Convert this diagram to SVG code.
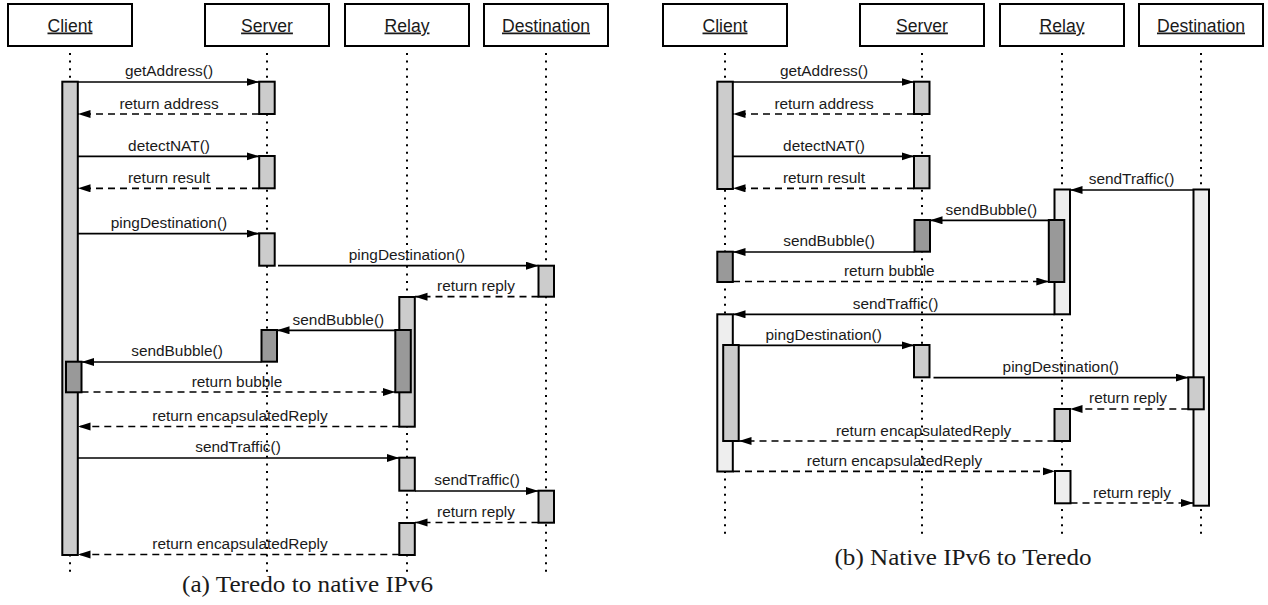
<svg xmlns="http://www.w3.org/2000/svg" width="1268" height="605" viewBox="0 0 1268 605">
<style>
.box{fill:#fff;stroke:#000;stroke-width:2}
.life{stroke:#000;stroke-width:2;stroke-dasharray:2 5.6;fill:none}
.act{stroke:#000;stroke-width:2;fill:#ccc}
.dark{fill:#999}
.pale{fill:#eee}
.msg{stroke:#000;stroke-width:1.7;fill:none;marker-end:url(#ah)}
.ret{stroke-dasharray:7 5}
.lbl{font-family:"Liberation Sans",Arial,sans-serif;font-size:15.4px;text-anchor:middle;fill:#1a1a1a}
.name{font-size:17.6px;text-decoration:underline}
.cap{font-family:"Liberation Serif","Times New Roman",serif;font-size:24px;text-anchor:middle;fill:#1a1a1a}
</style>
<defs>
<marker id="ah" markerUnits="userSpaceOnUse" markerWidth="14" markerHeight="9" refX="12.5" refY="4" orient="auto">
<path d="M0,0 L12.5,4 L0,8 z" fill="#000"/>
</marker>
</defs>
<rect width="1268" height="605" fill="#fff"/>

<!-- Diagram (a) -->
<g id="a-client">
<rect class="box" x="8" y="4" width="124" height="42"/>
<text class="lbl name" x="70" y="31.5">Client</text>
<line class="life" x1="70" y1="53" x2="70" y2="572"/>
<rect class="act" x="62.3" y="81.7" width="15.5" height="473.3"/>
<rect class="act dark" x="66" y="361.7" width="15.5" height="30.6"/>
</g>
<g id="a-server">
<rect class="box" x="205" y="4" width="124" height="42"/>
<text class="lbl name" x="267" y="31.5">Server</text>
<line class="life" x1="267" y1="53" x2="267" y2="572"/>
<rect class="act" x="259.2" y="81.7" width="15.5" height="32.3"/>
<rect class="act" x="259.2" y="156" width="15.5" height="32.3"/>
<rect class="act" x="259.2" y="233.3" width="15.5" height="32.4"/>
<rect class="act dark" x="261.5" y="330" width="15.5" height="31.7"/>
</g>
<g id="a-relay">
<rect class="box" x="345" y="4" width="124" height="42"/>
<text class="lbl name" x="407" y="31.5">Relay</text>
<line class="life" x1="407" y1="53" x2="407" y2="572"/>
<rect class="act" x="399.3" y="297" width="15.5" height="129.7"/>
<rect class="act dark" x="395.3" y="330" width="15.5" height="62.3"/>
<rect class="act" x="399.3" y="457.7" width="15.5" height="33"/>
<rect class="act" x="399.3" y="523" width="15.5" height="32"/>
</g>
<g id="a-destination">
<rect class="box" x="484" y="4" width="124" height="42"/>
<text class="lbl name" x="546" y="31.5">Destination</text>
<line class="life" x1="546" y1="53" x2="546" y2="572"/>
<rect class="act" x="538.5" y="265.7" width="15.5" height="31"/>
<rect class="act" x="538.5" y="490.7" width="15.5" height="32"/>
</g>

<g id="a-connectors">
<path class="msg" d="M78,82 H259"/>
<path class="msg ret" d="M259,114 H78"/>
<path class="msg" d="M78,156.3 H259"/>
<path class="msg ret" d="M259,188.3 H78"/>
<path class="msg" d="M78,233.6 H259"/>
<path class="msg" d="M278,265.7 H538.5"/>
<path class="msg ret" d="M538.5,296.7 H415"/>
<path class="msg" d="M395.3,330.3 H277"/>
<path class="msg" d="M261.5,362 H81.5"/>
<path class="msg ret" d="M81.5,392 H395.3"/>
<path class="msg ret" d="M399.3,426.5 H78"/>
<path class="msg" d="M78,458 H399.3"/>
<path class="msg" d="M415,491 H538.5"/>
<path class="msg ret" d="M538.5,522.5 H415"/>
<path class="msg ret" d="M399.3,554.5 H78"/>
<text class="lbl" x="169" y="76.2">getAddress()</text>
<text class="lbl" x="169" y="108.5">return address</text>
<text class="lbl" x="169" y="150.5">detectNAT()</text>
<text class="lbl" x="169" y="182.8">return result</text>
<text class="lbl" x="169" y="227.8">pingDestination()</text>
<text class="lbl" x="407" y="260.2">pingDestination()</text>
<text class="lbl" x="476" y="291.2">return reply</text>
<text class="lbl" x="338.4" y="324.5">sendBubble()</text>
<text class="lbl" x="177" y="356.2">sendBubble()</text>
<text class="lbl" x="237" y="386.5">return bubble</text>
<text class="lbl" x="240" y="421">return encapsulatedReply</text>
<text class="lbl" x="238" y="452.2">sendTraffic()</text>
<text class="lbl" x="477" y="485.2">sendTraffic()</text>
<text class="lbl" x="476" y="517">return reply</text>
<text class="lbl" x="240" y="549">return encapsulatedReply</text>
</g>
<text class="cap" x="307.5" y="591.7" textLength="251" lengthAdjust="spacingAndGlyphs">(a) Teredo to native IPv6</text>

<!-- Diagram (b) -->
<g id="b-client">
<rect class="box" x="663" y="4" width="124" height="42"/>
<text class="lbl name" x="725" y="31.5">Client</text>
<line class="life" x1="725" y1="53" x2="725" y2="538"/>
<rect class="act" x="717.3" y="81.7" width="15.5" height="107.3"/>
<rect class="act dark" x="717.3" y="251.7" width="15.5" height="30.3"/>
<rect class="act pale" x="717.3" y="314.3" width="15.5" height="157.2"/>
<rect class="act" x="723.2" y="345" width="15.5" height="96"/>
</g>
<g id="b-server">
<rect class="box" x="860" y="4" width="124" height="42"/>
<text class="lbl name" x="922" y="31.5">Server</text>
<line class="life" x1="922" y1="53" x2="922" y2="538"/>
<rect class="act" x="914" y="81.7" width="15.5" height="32.3"/>
<rect class="act" x="914" y="156" width="15.5" height="32.3"/>
<rect class="act dark" x="914.5" y="220" width="15.5" height="31.7"/>
<rect class="act" x="914" y="345" width="15.5" height="32.3"/>
</g>
<g id="b-relay">
<rect class="box" x="1000" y="4" width="124" height="42"/>
<text class="lbl name" x="1062" y="31.5">Relay</text>
<line class="life" x1="1062" y1="53" x2="1062" y2="538"/>
<rect class="act pale" x="1054.5" y="189.5" width="15.5" height="124.8"/>
<rect class="act dark" x="1048.8" y="220" width="15.5" height="62"/>
<rect class="act" x="1054.5" y="409" width="15.5" height="32"/>
<rect class="act pale" x="1055" y="471" width="15.5" height="32.3"/>
</g>
<g id="b-destination">
<rect class="box" x="1139" y="4" width="124" height="42"/>
<text class="lbl name" x="1201" y="31.5">Destination</text>
<line class="life" x1="1201" y1="53" x2="1201" y2="538"/>
<rect class="act pale" x="1193.5" y="189.5" width="15.5" height="316.2"/>
<rect class="act" x="1188.3" y="377.3" width="15.5" height="32"/>
</g>

<g id="b-connectors">
<path class="msg" d="M733,82 H914"/>
<path class="msg ret" d="M914,114 H733"/>
<path class="msg" d="M733,156.3 H914"/>
<path class="msg ret" d="M914,188.3 H733"/>
<path class="msg" d="M1193.5,190 H1070"/>
<path class="msg" d="M1048.8,220.3 H930"/>
<path class="msg" d="M914.5,252 H733"/>
<path class="msg ret" d="M733,281.5 H1048.8"/>
<path class="msg" d="M1054.5,314.3 H733"/>
<path class="msg" d="M739,345.3 H914"/>
<path class="msg" d="M933.5,377.6 H1188.3"/>
<path class="msg ret" d="M1188.3,409 H1070"/>
<path class="msg ret" d="M1054.5,441 H739"/>
<path class="msg ret" d="M733,471.3 H1055"/>
<path class="msg ret" d="M1070.5,503 H1193.5"/>
<text class="lbl" x="824" y="76.2">getAddress()</text>
<text class="lbl" x="824" y="108.5">return address</text>
<text class="lbl" x="824" y="150.5">detectNAT()</text>
<text class="lbl" x="824" y="182.8">return result</text>
<text class="lbl" x="1131.5" y="184">sendTraffic()</text>
<text class="lbl" x="991.4" y="214.5">sendBubble()</text>
<text class="lbl" x="829" y="246.2">sendBubble()</text>
<text class="lbl" x="889.3" y="276">return bubble</text>
<text class="lbl" x="895.5" y="308.8">sendTraffic()</text>
<text class="lbl" x="823.6" y="339.5">pingDestination()</text>
<text class="lbl" x="1060.8" y="371.8">pingDestination()</text>
<text class="lbl" x="1128" y="403">return reply</text>
<text class="lbl" x="923.6" y="435.5">return encapsulatedReply</text>
<text class="lbl" x="894.5" y="465.5">return encapsulatedReply</text>
<text class="lbl" x="1132" y="497.5">return reply</text>
</g>
<text class="cap" x="963" y="564.5" textLength="257" lengthAdjust="spacingAndGlyphs">(b) Native IPv6 to Teredo</text>
</svg>
